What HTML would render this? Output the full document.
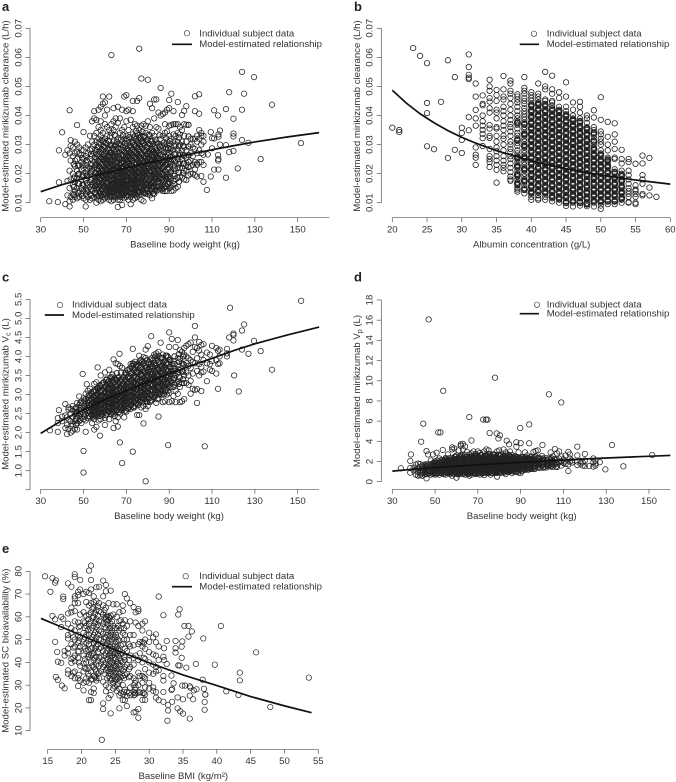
<!DOCTYPE html>
<html lang="en">
<head>
<meta charset="utf-8">
<title>Model-estimated mirikizumab relationships</title>
<style>
html,body{margin:0;padding:0;background:#fff;}
svg{display:block;width:676px;height:782px;font-family:"Liberation Sans",Arial,sans-serif;filter:blur(.3px);}
text{fill:#333;font-size:9.6px;}
.letter{font-weight:bold;font-size:13px;fill:#222;}
</style>
</head>
<body>
<svg id="figure" width="676" height="782" viewBox="0 0 676 782" xmlns="http://www.w3.org/2000/svg">
<rect width="676" height="782" fill="#fff"/>

<g id="panel-a">
<text class="letter" x="2" y="11">a</text>
<text x="185" y="247.5" text-anchor="middle">Baseline body weight (kg)</text>
<text transform="translate(8.5,116) rotate(-90)" text-anchor="middle">Model-estimated mirikizumab clearance (L/h)</text>
<circle cx="187" cy="33.3" r="2.7" fill="none" stroke="#222" stroke-width=".6"/>
<line x1="172" x2="192" y1="44.3" y2="44.3" stroke="#111" stroke-width="1.7"/>
<text x="199.3" y="36.5">Individual subject data</text>
<text x="199.3" y="47">Model-estimated relationship</text>
</g>

<g id="panel-b">
<text class="letter" x="354" y="11">b</text>
<text x="531.7" y="247.5" text-anchor="middle">Albumin concentration (g/L)</text>
<text transform="translate(359.8,116) rotate(-90)" text-anchor="middle">Model-estimated mirikizumab clearance (L/h)</text>
<circle cx="534" cy="33.7" r="2.7" fill="none" stroke="#222" stroke-width=".6"/>
<line x1="519.7" x2="539" y1="44.3" y2="44.3" stroke="#111" stroke-width="1.7"/>
<text x="546.7" y="36.5">Individual subject data</text>
<text x="546.7" y="47">Model-estimated relationship</text>
</g>

<g id="panel-c">
<text class="letter" x="2" y="281.5">c</text>
<text x="169" y="519" text-anchor="middle">Baseline body weight (kg)</text>
<text transform="translate(8.5,394) rotate(-90)" text-anchor="middle">Model-estimated mirikizumab V<tspan dy="2" style="font-size:7px">c</tspan><tspan dy="-2"> (L)</tspan></text>
<circle cx="60" cy="305" r="2.7" fill="none" stroke="#222" stroke-width=".6"/>
<line x1="44.7" x2="64" y1="315" y2="315" stroke="#111" stroke-width="1.7"/>
<text x="72" y="307.5">Individual subject data</text>
<text x="72" y="318">Model-estimated relationship</text>
</g>

<g id="panel-d">
<text class="letter" x="354" y="281.5">d</text>
<text x="521.7" y="519" text-anchor="middle">Baseline body weight (kg)</text>
<text transform="translate(359.8,391) rotate(-90)" text-anchor="middle">Model-estimated mirikizumab V<tspan dy="2" style="font-size:7px">p</tspan><tspan dy="-2"> (L)</tspan></text>
<circle cx="537" cy="304.7" r="2.7" fill="none" stroke="#222" stroke-width=".6"/>
<line x1="519.7" x2="539" y1="313.7" y2="313.7" stroke="#111" stroke-width="1.7"/>
<text x="546.7" y="307.5">Individual subject data</text>
<text x="546.7" y="316.5">Model-estimated relationship</text>
</g>

<g id="panel-e">
<text class="letter" x="2" y="553">e</text>
<text x="183.3" y="779" text-anchor="middle">Baseline BMI (kg/m²)</text>
<text transform="translate(8.5,650.7) rotate(-90)" text-anchor="middle">Model-estimated SC bioavailability (%)</text>
<circle cx="185.7" cy="576.3" r="2.7" fill="none" stroke="#222" stroke-width=".6"/>
<line x1="172" x2="192" y1="586.7" y2="586.7" stroke="#111" stroke-width="1.7"/>
<text x="199.3" y="579">Individual subject data</text>
<text x="199.3" y="589.5">Model-estimated relationship</text>
</g>
</svg>

<script>
/* Each subject row: [x value, y value, y value, ...] */
const weightTicks = [30,50,70,90,110,130,150];

/* Panel a: weight (kg) vs clearance (mL/h, printed as L/h) */
const aYTicks = [10,20,30,40,50,60,70];
const aYLabels = ["0.01","0.02","0.03","0.04","0.05","0.06","0.07"];
const aCurveX = [30,40,50,60,70,80,90,100,110,120,130,145,160];
const aCurveY = [13.8,16.2,18.3,20.2,22,23.7,25.3,26.8,28.2,29.6,30.9,32.6,34.1];
const aSubjects = [
[34,10.5],[38,10.2],[38.5,17,28],[40,34.2],[41.5,9.5,26.5],[42.5,12.5,17.5,28],[43.5,8.7,10.5,15,21,27,41.8],
[44,12,18,24.5,31.5,29.5],[45,11,13,16,20,26,29],[46,12,14,17,19,22.5,24.5,27,31],[47,11.5,15,18.5,21,25,27.5,30,36.7],
[48,12,14,16.5,20,23,27,29],[49,13,15,18,21.5,24,26.5,28],[50,11.5,14,16,19,22,25,28,34.3],[51,8.7,11,13,15,18,20,23,26,29],
[52,12,14,16,19,21,24,27,30],[53,11,13,15.5,17,20,22,25,28,33],[54,11.5,14,16,18,21,23,26,28.5,31,38],
[55,12,15,17,19,22,24,27,30,33,39,41.5],[56,10,13,14.5,16,18,20,23,25,28,31,34,38.5],
[57,11,12.5,15,17,19,21,22.5,24,26,29,32,36,42],[58,10.5,13,14,16,18,20,22,24,27,30,33,35,38,43],
[59,11,12,14,15,17,19,21,23,25,28,31,34,46.5,44],[60,11.5,13,15,16,18,20,22,24,26,29,32,37,40,44.5],
[61,12,14,15.5,17,19,21,23,25,27,30,33,36,42],[62,11,13,14.5,16,18,20,22,24,26,28,31,35,46.5],
[63,10.5,12,13.5,15,16.5,18,19.5,21,23,25,27,30,34,37,60.8],[64,11,12.5,14,15.5,17,18.5,20,21.5,23,24.5,26,28,31,35,38,42.5],
[65,12,13,15,16,17.5,19,20.5,22,24,26,28.5,30,33,36,39],[66,8.5,11,13,14.5,16,17.5,19,21,22.5,24,26,29,32,37.5,43],
[67,11,12,14,15.5,17,18,20,21,23,25,27,30,34,39],[68,9.2,12,13.5,15,16.5,18,19.5,21.5,23.5,25,28,31,35,42],
[69,11.5,13,14.5,16,17,19,20.5,22,24,26,28,32,36,46.5],[70,12,14,15,16.5,18,19.5,21,23,25,27,29.5,33,38,41.5,47],
[71,11,12.5,14,16,17.5,19,20.5,22,24,26,28,30.5,35,42],[72,9.5,12,13.5,15,16.5,18,20,21.5,23,25,27,29,32,38.5],
[73,11,13,14.5,16,17.5,19,21,22.5,24.5,26.5,28.5,31,33.5,36,41.5,45],[74,11.5,13,15,16.5,18,20,22,24,26,28,30,33,37],
[75,12,14,15.5,17,19,20.5,22,23.5,25,27,29,31,34,36.5,45],[76,12.5,14,15,17,18.5,20,22,24,26,28,30,32.5,35,46,63],
[77,11,13,15,16.5,18,20,21.5,23,25,27,29,31,33,36.5,52.7],[78,10.5,13.5,15,17,19,20.5,22,24,26,28,30.5,33,37],
[79,13,14.5,16,18,20,22,24,26,28,31,34,36.5],[80,13,15,16.5,18,20,22,23.5,25,27,29,32,38,52.3],
[81,12.5,14,16,18,19.5,21,23,25,27,30,33,36,44],[82,11.5,14,15.5,17,19,21,23,24.5,26.5,28.5,31,34,42.5],
[83,13,15,17,19,21,23,25,27,29,33,39,45.5],[84,14,15.5,18,20,22,24,26,28,31,36,45.5],[85,14.5,17,19,21,23,25,27,30,35.5,41],
[86,15,17,19,21,23,25,28,32,40,49.5],[87,14,16,18,20,22,24,26,29,33,40.5],[88,14,16.5,19,21,23,26,30,34,37,41],
[89,14,15.5,18,20,23,25,28,31,34.5,42],[90,15,17,19,22,24,27,30,33,36.5,42.5,45.3],[91,14,16,18.5,21,24,26,29,32,36.7,47.5],
[92,14.2,17.5,20,23,25,28,31,33.5,37,41.5],[93,15,18,21,24,27,30,33,37],[94,15.5,18.5,22,25,28,31,34,37,44.6],
[95,19,22,24,27,30,33.5,36],[96,18.7,22,25,28,31,35,40.2],[97,18,21,23.5,26,29,33,37,41.6],[98,17.8,21,23,25.5,28,31,36.8,43.2],
[100,19.9,22.5,24.5,27,30,32],[101,20,23,26,29,32],[102,19.5,21.5,24,28.5,32,41.5,46.6],[103,19,23.5,23,27,31,33],[104,24,28,32,35,40.6,47.3],
[105,19.2,24,27,30,33,34],[106,17.2,23,26.5,31,33],[107.6,14.4],[108,26.6],[109.4,19,34.3],[110,28.7,32.2],[111,21.4,32.1,41.8],
[112.8,24.5,26.4,40],[113,21.4,25,32.7,33.5],[113.7,30,34.8],[116.5,18.6,29.8,42.2],[118,27.4,48],[120,27.8,32.8,33.8,38.9],
[122,21.8],[124,31.6,42,55],[125,47.5],[127,30.6],[129.6,53.2],[132.7,25],[138,43.7],[151.5,30.5]
];
const aCoreSubjects = [
[45.5,12.7,15.4,18.3,23.2],[47.5,13.4,16.6,19.8,22.7],[49.5,12.3,16.2,19.4,22.8,25.3],[51.5,14.2,16.7,19.3,21.8,24.6],[53.5,12.4,14.6,17.8,20.7,23.4,26.8],
[55.5,13.3,15.8,17.6,20.4,22.9,25.6,28.3],[56.5,12.2,15.3,17.2,19.4,21.6,24.3,26.7,29.2],[57.5,13.6,15.8,18.3,20.2,22.4,24.9,27.6,30.8],
[58.5,12.4,14.7,16.9,19.3,21.2,23.3,25.7,28.4,31.6],[59.5,13.2,15.6,17.7,18.4,20.3,22.6,24.7,26.8,29.4],[60.5,12.6,14.3,16.7,18.7,19.6,21.4,23.4,25.2,27.7,30.6],
[61.5,13.3,15.2,16.6,18.3,20.3,22.2,24.4,26.3,28.6,31.4],[62.5,12.3,14.2,15.7,17.4,19.2,20.8,22.7,24.8,27.2,29.7,32.8],[63.5,13.4,14.8,16.3,17.7,19.3,21.3,22.6,24.2,26.3,28.7],
[64.5,12.2,13.8,15.2,16.9,18.2,19.7,21.2,22.8,25.2,27.3,29.6,33.3],[65.5,13.2,14.4,16.2,17.7,19.3,20.8,22.3,23.6,25.3,27.7,30.8],[66.5,12.4,14.2,15.4,16.8,18.4,19.9,21.6,23.2,25.1,27.4,30.4],
[67.5,13.1,14.6,16.2,17.6,19,20.6,22.1,23.9,26.2,28.4,31.7],[68.5,12.7,14.2,15.8,17.2,18.6,20.2,22.5,24.4,26.4,29.2,33.2],[69.5,13.4,15,16.2,17.8,19.3,21,22.8,25.2,27.3,30.4],
[70.5,12.6,14.4,15.9,17.4,19,20.4,22.2,24.2,26.2,28.4,31.7],[71.5,13.3,15.2,16.7,18.4,19.7,21.4,23.3,25.3,27.2,29.4,32.6],[72.5,13.2,14.7,16.4,17.9,19.3,21,22.7,24.4,26.4,28.2,30.6],
[73.5,13.6,15.3,16.8,18.4,20.2,21.7,23.4,25.4,27.4,29.8,32.4],[74.5,12.6,14.6,16.2,17.7,19.4,21.3,23.2,25.2,27.2,29.4,31.8,34.7],[75.5,13.2,15.2,16.7,18.3,20.2,22.2,24.3,26.3,28.4,30.7,33.2],
[76.5,13.7,15.4,17.3,19.2,21.2,23.1,25.2,27.4,29.6,32.2],[77.5,14.2,16.3,18.4,20.3,22.4,24.4,26.6,28.7,31.3,34.4],[78.5,13.4,15.7,17.6,19.6,21.4,23.4,25.4,27.6,29.7,32.6],
[79.5,14.6,16.7,18.7,20.7,22.7,24.7,26.8,29.2,31.4],[80.5,13.6,15.7,17.6,19.7,21.8,23.6,25.7,27.8,30.3,33.4],[81.5,14.7,16.8,18.7,20.6,22.4,24.4,26.3,28.4,31.2],
[82.5,13.3,15.4,17.6,19.8,21.7,23.7,25.8,27.6,30.2],[83.5,14.4,16.6,18.7,20.6,22.7,24.7,26.7,28.7,31.7],[84.5,15.3,17.2,19.4,21.4,23.4,25.4,27.7,30.4],
[85.5,15.7,18.2,20.3,22.4,24.4,26.4,29.3,33.2],[86.5,14.6,17.8,19.8,21.7,23.8,26.6,29.7],[87.5,15.2,17.6,19.6,22.3,24.7,27.4,30.7],[88.5,15.7,18.3,20.6,23.4,25.6,28.6,32.2],
[89.5,16.3,18.7,21.4,23.6,26.3,28.8],[90.5,15.3,18.2,20.4,23.2,25.8,28.4,31.2],[92.5,16.4,19.2,21.8,24.4,26.7,29.4],[94.5,17.2,20.4,23.2,26.2,29.4,32.4],[96.5,20.2,23.4,26.4,29.6],[99,19.4,22.3,24,26.4,29.3,32.8,36.8]
];

/* Panel b: albumin (g/L) vs clearance (mL/h, printed as L/h) */
const bXTicks = [20,25,30,35,40,45,50,55,60];
const bYTicks = aYTicks;
const bYLabels = aYLabels;
const bCurveX = [20,22,24,26,28,30,32,35,40,45,50,55,60];
const bCurveY = [48.7,44.3,40.6,37.5,34.8,32.5,30.5,27.9,24.4,21.7,19.5,17.8,16.4];
const bSubjects = [
[20,35.8],[21,34.3,35],[23,63.2],[24,60.5],[25,58,44.3,40.8,29.4],[26,28.4],[27,44.7],[28,59,25.4],[29,53.2,28.2],
[30,35.8,34,31.6,27.1],[31,61,56.7,54,53,52.5,39.4,34.9],[32,51,46.5,41.9,39,36.5,29,26.5,25.5,23],
[33,46.9,44,43.5,40,38,36.5,35,33.7,32.2,29.5],[34,52.3,50,48.5,46,44.8,42.5,41,36.7,35.5,33,32.3,28.5,26,25,24,22.3],
[35,48.8,47,45,42,41,39,36,35.5,33,31,29,27.7,26,24.5,23,21.3,16.9],
[36,53.6,49,46.5,45.5,43,41.5,40,38,36.5,35,33,32,30,28,26,24.5,23,22,20.8],
[37,52,51,48.5,47.5,46,44,42,40,38.5,37,36,34.5,33,31,30,28.5,27.5,26,25,23.5,22,20.5,19,18,17.5],
[38,47.3,46.5,45.5,44.5,43,41.5,40,39,38,36.8,35.5,34,33,32,30.5,29.5,28,27,26,25,24,23,22,21,20,19,18,17,16,15,14.5,13.8],
[39,53.2,49.5,48.5,47.5,46,45,44,42.5,41.5,40.5,39.5,38.5,37.5,36,35,34,33,32,31,30,29,28,27,26,25,24,23,22,21,20,19,18,17,16,15,13.2],
[40,48,47,46,45,44,43,42,41,40,39,38,37,36,35,34,33,32,31,30,29,28,27,26,25,24,23,22,21,20,19,18,17,16,15,14,13,12,11],
[41,51,47.5,46.5,45.5,44.5,43.5,42.5,41.5,40.5,39.5,38.5,37.5,36.5,35.5,34.5,33.5,32.5,31.5,30.5,29.5,28.5,27.5,26.5,25.5,24.5,23.5,22.5,21.5,20.5,19.5,18.5,17.5,16.5,15.5,14.5,13.5,12.5,11.5,11],
[42,55,50,49,45.5,45,44,43,42,41,40,39,38,37,36,35,34,33,32,31,30,29,28,27,26,25,24,23,22,21,20,19,18,17,16,15,14,13,12,11],
[43,53.7,49,47.5,45,44.5,43.5,42.5,41.5,40.5,39.5,38.5,37.5,36.5,35.5,34.5,33.5,32.5,31.5,30.5,29.5,28.5,27.5,26.5,25.5,24.5,23.5,22.5,21.5,20.5,19.5,18.5,17.5,16.5,15.5,14.5,13.5,12.5,11.5,10.5],
[44,48,46,43,42,41,40,39,38,37,36,35,34,33,32,31,30,29,28,27,26,25,24,23,22,21,20,19,18,17,16,15,14,13,12,11,10],
[45,51.4,46.5,43,41.5,40.5,39.5,38.5,37.5,36.5,35.5,34.5,33.5,32.5,31.5,30.5,29.5,28.5,27.5,26.5,25.5,24.5,23.5,22.5,21.5,20.5,19.5,18.5,17.5,16.5,15.5,14.5,13.5,12.5,11.5,10.5,8.9],
[46,44.5,42,40,39,38,37,36,35,34,33,32,31,30,29,28,27,26,25,24,23,22,21,20,19,18,17,16,15,14,13,12,11,10,8.7],
[47,44.7,43,41,39,37.5,36.5,35.5,34.5,33.5,32.5,31.5,30.5,29.5,28.5,27.5,26.5,25.5,24.5,23.5,22.5,21.5,20.5,19.5,18.5,17.5,16.5,15.5,14.5,13.5,12.5,11.5,10.5,9],
[48,40,39,37.5,36,35,34,33,32,31,30,29,28,27,26,25,24,23,22,21,20,19,18,17,16,15,14,13,12,11,10,8.8],
[49,41.8,39.3,36,35,33.5,32.5,31.5,30,29,28,27,26,25,24,23,22,21,20,19,18,17,16,15,14,13,12,11,10,8.7],
[50,46.3,38.5,34.5,33.5,32,31,30,28,27,26,25,24,23,22,21,20,19,18,17,16,15,14,13,12,11,10,9,7.9],
[51,37.8,32.7,30,28,25.5,25,24,23,22,21,20,19,18,17,16,15,14,13,12,11,9.5],
[52,37.3,33.5,31,28.5,25.5,25,21.5,20,19,18,17,16,15,14,13,12,11,9.5],
[53,28.2,25,23.5,21,20,19,18,17,16,15,14,13,12,11,10],
[54,25,24,21,19.5,18,16.5,15,14,13,12,10.2,10],[55,23.4,16,14.5,14,13,12,10,9.5],[56,26.2,23.5,19.5,18,16.5,13,12.5],[57,25.4,15.2,12.5],[58,12]
];
const bCoreSubjects = [
[38,37.5,31.5,25.5,22.5,19.5,16.5],[39,37,33.5,29.5,25.5,21.5,17.5,14.5],
[40,43.5,41.5,39.5,37.5,35.5,33.5,31.5,29.5,27.5,25.5,23.5,21.5,19.5,17.5,15.5,13.5],
[41,44,42,40,38,36,34,32,30,28,26,24,22,20,18,16,14],
[42,43.5,41.5,39.5,37.5,35.5,33.5,31.5,29.5,27.5,25.5,23.5,21.5,19.5,17.5,15.5,13.5],
[43,42,40,38,36,34,32,30,28,26,24,22,20,18,16,14,12],
[44,41.5,39.5,37.5,35.5,33.5,31.5,29.5,27.5,25.5,23.5,21.5,19.5,17.5,15.5,13.5,11.5],
[45,40,38,36,34,32,30,28,26,24,22,20,18,16,14,12,10],
[46,38.5,36.5,34.5,32.5,30.5,28.5,26.5,24.5,22.5,20.5,18.5,16.5,14.5,12.5,10.5],
[47,38,36,34,32,30,28,26,24,22,20,18,16,14,12,10],
[48,35.5,33.5,31.5,29.5,27.5,25.5,23.5,21.5,19.5,17.5,15.5,13.5,11.5,9.5],
[49,34,31,28.5,26.5,24.5,22.5,20.5,18.5,16.5,14.5,12.5,10.5],
[50,26.5,24.5,22.5,20.5,18.5,16.5,14.5,12.5,10.5],
[51,24.5,22.5,20.5,18.5,16.5,14.5,12.5,10.5],[52,20.5,18.5,16.5,14.5,12.5,10.5],[53,19.5,17.5,15.5,13.5,11.5]
];

/* Panel c: weight (kg) vs Vc (L) */
const cYTicks = [0.5,1,1.5,2,2.5,3,3.5,4,4.5,5,5.5];
const cYLabels = ["","1.0","1.5","2.0","2.5","3.0","3.5","4.0","4.5","5.0","5.5"];
const cCurveX = [30,40,50,60,70,80,90,100,110,120,130,145,160];
const cCurveY = [1.98,2.32,2.6,2.87,3.1,3.33,3.55,3.75,3.95,4.15,4.33,4.56,4.77];
const cSubjects = [
[34.3,2.06],[38,2.02,2.25,2.38],[38.5,2.59],[40,2.3,2.42],[41.5,2.12,2.45,2.75],[42.3,1.96,2.2,2.4],[43,2.1,2.35,2.6,2.66],
[44,2,2.18,2.3,2.5,2.62],[45,2.05,2.22,2.4,2.58,2.7],[46,2.1,2.3,2.48,2.62],[47,2.08,2.25,2.42,2.55,2.78],[48,2.3,2.44,2.6,2.72,2.95],
[49,2.25,2.4,2.55,2.68,2.82],[49.6,3.54],[50,1.52,.95,2.35,2.5,2.65,2.8,2.9],[51,2.02,2.32,2.48,2.6,2.75,2.88,3.02],[51.5,3.27],
[52,2.38,2.52,2.64,2.78,2.92,3.1],[53,2.4,2.55,2.7,2.82,2.95,3.15],[54,2.25,2.45,2.6,2.72,2.85,3],[55,2.08,2.35,2.5,2.65,2.78,2.9,3.08,3.28],
[56,2.15,2.42,2.58,2.7,2.82,2.95,3.1,3.32],[56.6,3.71],[57,2.32,2.5,2.62,2.76,2.88,3,3.18],[57.7,1.92],
[58,2.35,2.52,2.66,2.8,2.92,3.05,3.22,3.5],[59,2.45,2.6,2.72,2.85,2.96,3.08,3.3],[60,2.2,2.38,2.55,2.68,2.8,2.92,3.05,3.2,3.58],
[61,2.5,2.62,2.76,2.88,3,3.14,3.28,3.42],[62,2.35,2.55,2.68,2.8,2.92,3.04,3.18,3.36,3.65],[63,2.48,2.6,2.74,2.86,2.98,3.1,3.24,3.46],
[64,2.12,2.5,2.64,2.78,2.9,3.02,3.15,3.3,3.92],[65,2.3,2.55,2.7,2.82,2.94,3.06,3.2,3.38,3.82],[66,2.16,2.4,2.6,2.74,2.88,3,3.12,3.26,3.44,3.8],
[66.8,4.07],[67,1.74,2.5,2.66,2.8,2.92,3.04,3.18,3.34,3.75],[68,1.2,2.58,2.72,2.84,2.96,3.08,3.22,3.4,3.7],[69,2.4,2.65,2.78,2.9,3.02,3.14,3.28,3.46],
[70,2.55,2.7,2.82,2.94,3.06,3.2,3.34,3.52],[71,2.62,2.76,2.88,3,3.12,3.26,3.42,3.6],[72,2.62,2.72,2.84,2.96,3.08,3.22,3.36,3.54,3.8],
[73,1.5,2.68,2.8,2.92,3.04,3.16,3.3,3.46,3.66,3.82,4.2],[74,2.7,2.84,2.96,3.08,3.2,3.34,3.5,3.7,3.86],[75,2.46,2.76,2.9,3,3.12,3.26,3.4,3.58,3.78],
[76,2.46,2.8,2.94,3.06,3.18,3.32,3.46,3.64,3.84,4.02],[77,2.66,2.86,2.98,3.1,3.24,3.38,3.54,3.72,3.9],[78,2.24,2.7,2.9,3.02,3.16,3.28,3.42,3.6,3.82,3.98],
[79,.72,2.62,2.84,2.96,3.08,3.22,3.36,3.5,3.7,3.96,4.18],[80,2.7,2.94,3.04,3.16,3.3,3.44,3.6,3.8,4.27],[81,2.8,2.98,3.1,3.24,3.38,3.54,3.72,3.92],
[81.6,4.53],[82,2.85,3,3.14,3.28,3.42,3.58,3.76,3.96],[83,2.92,3.04,3.18,3.32,3.46,3.62,3.82,4.05],[84,2.78,2.98,3.1,3.24,3.38,3.52,3.68,3.88,4.08],
[85,2.42,2.9,3.06,3.2,3.34,3.48,3.64,3.84,4.02,4.12],[86,3,3.14,3.28,3.42,3.56,3.72,3.96,4.36],[87,2.8,3.02,3.2,3.34,3.5,3.66,3.82,4.05],
[88,2.82,3.1,3.26,3.4,3.56,3.72,3.9],[89,3,3.18,3.34,3.5,3.66,3.84,4.02],[89.5,1.67],[90,2.8,3.04,3.24,3.4,3.56,3.72,3.9,4.25,4.63],
[91.2,2.82,3.3,3.46,3.62,3.8,4.46],[92,2.96,3.2,3.38,3.54,3.7,3.88],[93,2.8,3.1,3.3,3.5,3.68,4.25],[94,3.02,3.36,3.58,3.76,3.96,4.43],
[95,2.8,3.2,3.44,3.64,3.94,4.16],[96,2.82,3.3,3.6,3.82,4.12],[97,2.88,3.3,3.5,3.78,4.05,4.22],[98,3.3,3.58,3.82,4,4.28],[99,3.25,3.5,3.75,3.95,4.32],
[100,3.02,3.36,3.7,3.9,4.36],[101,3.15,3.55,3.85,4.12],[102,3.12,3.82,4.25,4.5,4.8],[103,2.78,3.14,3.62,3.95,4.22],[104,3.5,3.8,4.15,4.38],
[105,3.09,3.58,3.72,4.05,4.3],[106,3.6,3.9,4.32],[106.6,1.64],[107.6,3.35,3.82,4.1],[109,3.65,3.8,4.05],[110,3.62,3.88,4.28],[112,3.55,3.9,4.22],
[112.8,3.15,3.8,4.15],[113.5,3.82,4,4.18],[117,4,4.08,4.2],[118,4.5],[118.4,5.28],[120,4.42,4.56,4.6],[120.3,3.5],[122.5,3.08],[124,4.18,4.68],[125,4.84],
[127,4.07],[129.6,4.41],[132.7,4.14],[138,3.65],[151.6,5.46]
];
const cCoreSubjects = [
[46.5,2.2,2.36,2.52,2.66],[48.5,2.34,2.5,2.64,2.78],[50.5,2.42,2.56,2.7,2.84],[52.5,2.44,2.58,2.72,2.86,2.98],[53.5,2.48,2.62,2.76,2.9,3.04],
[54.5,2.42,2.56,2.68,2.8,2.94,3.08],[55.5,2.46,2.6,2.74,2.86,2.98,3.12],[56.5,2.5,2.64,2.76,2.88,3.02,3.16],[57.5,2.44,2.58,2.7,2.84,2.96,3.1,3.24],
[58.5,2.48,2.62,2.74,2.86,2.98,3.12,3.26],[59.5,2.54,2.66,2.78,2.9,3.02,3.16,3.32],[60.5,2.46,2.6,2.72,2.84,2.96,3.08,3.22,3.38],[61.5,2.56,2.68,2.8,2.92,3.04,3.18,3.34],
[62.5,2.5,2.64,2.76,2.88,3,3.12,3.28,3.44],[63.5,2.54,2.68,2.82,2.94,3.06,3.2,3.36,3.52],[64.5,2.44,2.6,2.74,2.86,2.98,3.1,3.24,3.42],[65.5,2.58,2.72,2.84,2.96,3.08,3.22,3.38,3.56],
[66.5,2.54,2.68,2.8,2.92,3.04,3.16,3.3,3.46],[67.5,2.6,2.74,2.86,2.98,3.1,3.24,3.4,3.58],[68.5,2.64,2.78,2.9,3.02,3.14,3.28,3.44],[69.5,2.58,2.72,2.84,2.96,3.08,3.22,3.38,3.56],
[70.5,2.64,2.78,2.9,3.02,3.16,3.3,3.46,3.64],[71.5,2.68,2.82,2.94,3.06,3.18,3.32,3.48,3.68],[72.5,2.74,2.86,2.98,3.1,3.24,3.38,3.56,3.74],[73.5,2.66,2.8,2.92,3.04,3.18,3.32,3.48,3.64,3.8],
[74.5,2.78,2.9,3.02,3.14,3.28,3.44,3.6,3.78],[75.5,2.72,2.86,2.98,3.12,3.26,3.4,3.56,3.74],[76.5,2.84,2.96,3.1,3.24,3.38,3.52,3.7,3.9],[77.5,2.8,2.94,3.06,3.2,3.34,3.5,3.66,3.86],
[78.5,2.88,3,3.14,3.28,3.42,3.58,3.76],[79.5,2.8,2.92,3.06,3.2,3.36,3.52,3.7,3.9],[80.5,2.9,3.02,3.18,3.32,3.48,3.64,3.84],[81.5,2.84,2.98,3.12,3.28,3.44,3.6,3.8],
[82.5,2.94,3.08,3.24,3.38,3.54,3.72,3.9],[83.5,3,3.14,3.3,3.44,3.6,3.78,4],[84.5,2.88,3.04,3.2,3.36,3.52,3.7,3.92],[85.5,3.02,3.18,3.34,3.5,3.68,3.86],[86.5,3.08,3.24,3.4,3.56,3.76,3.96],
[87.5,3,3.16,3.34,3.5,3.68,3.86],[88.5,3.12,3.3,3.46,3.64,3.82,4.02],[89.5,3.1,3.28,3.44,3.62,3.8,3.98],[90.5,3.2,3.36,3.54,3.72,3.9],[92.5,3.26,3.44,3.62,3.8,4],[94.5,3.28,3.46,3.66,3.86,4.06],[96.5,3.4,3.6,3.8,4]
];

/* Panel d: weight (kg) vs Vp (L) */
const dYTicks = [0,2,4,6,8,10,12,14,16,18];
const dYLabels = ["0","2","4","6","8","10","12","14","16","18"];
const dCurveX = [30,40,50,60,70,80,90,100,110,120,130,145,160];
const dCurveY = [1.05,1.24,1.4,1.54,1.67,1.8,1.92,2.03,2.14,2.25,2.35,2.48,2.6];
const dSubjects = [
[34,1.32],[38.4,2.05,.9,1.35],[38.7,2.7],[40,1.1,1.4],[41,.7,1.2,1.7],[42,.6,.95,1.3,1.8],[43,.65,.9,1.15,1.45,1.75],[43.5,3.96],[44,.6,.85,1.1,1.35,1.6],[44.5,5.75],
[45,.7,.95,1.2,1.45,1.7],[46,.33,.75,1,1.25,1.5,1.75,3.03],[46.7,.9,1.15,1.4,1.65,2.7],[47,16.07],[48,.7,1,1.25,1.5,1.75,2.1],[49,.75,1.05,1.3,1.55,1.8,2.7],[50,.7,.95,1.2,1.45,1.7,2],
[50.7,2.87],[51,.8,1.1,1.35,1.6,1.85,2.1],[51.5,4.88],[52,.7,1,1.3,1.55,1.8,2.05,2.3],[52.5,4.88],[53,.85,1.15,1.4,1.65,1.9,2.15],[53.6,3.14],[53.8,9],
[54,.75,1.05,1.35,1.6,1.85,2.1],[55,.7,1,1.25,1.5,1.75,2,2.35],[56,.85,1.15,1.4,1.65,1.9,2.15,2.7],[57,.75,1.05,1.3,1.55,1.8,2.05,2.35],[58,.6,.95,1.2,1.45,1.7,1.95,2.2,3.2,3.4],
[59,.75,1.1,1.35,1.6,1.85,2.1,2.45,3.3],[60,.4,.85,1.15,1.4,1.65,1.9,2.15,2.6],[61,.7,1,1.3,1.55,1.8,2.05,2.35,3.1],[62,.85,1.15,1.4,1.65,1.9,2.15,2.5,3.55,3.7],
[63,.75,1.05,1.35,1.6,1.85,2.1,2.4,3.2,3.75],[64,.7,1,1.25,1.5,1.75,2,2.25,2.65,3.5],[65,.8,1.1,1.4,1.65,1.9,2.15,2.5,2.95],[66,.6,.95,1.2,1.5,1.75,2,2.3,2.7,6.4],
[67,.7,1.05,1.3,1.55,1.8,2.05,2.35,2.8,4.08],[68,.85,1.15,1.4,1.65,1.9,2.15,2.45,3],[69,.75,1.05,1.35,1.6,1.85,2.1,2.4,2.75],[70,.8,1.1,1.4,1.65,1.9,2.15,2.5,3],
[71,.7,1,1.3,1.55,1.8,2.05,2.35,2.85],[72,.8,1.15,1.45,1.7,1.95,2.2,2.6],[72.5,6.15],[73,.65,.95,1.25,1.55,1.8,2.05,2.4,3],[73.8,6.15],[74,.85,1.15,1.45,1.7,1.95,2.2,2.6,3.2],[74.5,6.15],
[75,.85,1.1,1.35,1.65,1.9,2.15,2.5,3.1],[75.5,4.82],[76,.7,1,1.3,1.6,1.85,2.1,2.4],[77,.85,1.15,1.45,1.7,1.95,2.2,2.7],[78,.95,1.25,1.55,1.8,2.05,2.35,2.65,10.3],[78.8,4.78],
[79,.5,.95,1.3,1.6,1.85,2.1,2.4,3],[79.6,4.28],[80,.85,1.2,1.5,1.75,2,2.25,2.55,3.1],[80.3,4.6],[81,.9,1.25,1.55,1.8,2.05,2.3,2.7],[82,1,1.35,1.6,1.85,2.1,2.4,3.2],
[83,.75,1.1,1.45,1.7,1.95,2.2,2.5,2.9],[83.5,4.06],[84,1,1.3,1.6,1.85,2.1,2.35,2.7],[84.6,3.7],[85,1.1,1.4,1.65,1.9,2.15,2.5,3],[86,.85,1.2,1.5,1.75,2,2.3,2.65],
[87,1.1,1.45,1.7,1.95,2.2,2.5],[88,.95,1.3,1.6,1.85,2.1,2.4,3.47,3.9],[89,.9,1.25,1.55,1.8,2.05,2.35,2.9],[89.8,5.32],[90,.85,1.2,1.5,1.8,2.05,2.3,3.83],[91,1.3,1.6,1.85,2.1,2.45],
[92,1.15,1.45,1.75,2,2.3,2.9],[93,1.3,1.6,1.9,2.2,2.6],[94,1.4,1.65,1.95,2.3,5.67,3.8],[95,1.25,1.55,1.85,2.15,2.5],[96,1.35,1.7,2,2.3,2.95],[97,1.5,1.8,2.1,2.5,3.05],
[98,1.4,1.7,2,2.3,3.1],[99,1.35,1.65,1.95,2.25],[100,1.6,1.9,2.2,2.55],[100.2,3.63],[101,1.45,1.8,2.1],[102,1.4,1.7,2,2.35],[103.2,1.6,1.95,2.3,8.65],[104,1.5,1.85,2.2,2.9],[105,1.45,1.75,2.05,2.5],
[106,1.7,1.95,2.25,3.23],[107,1.45,1.8,2.8],[108,1.9,2.3,3],[109,1.6,2,2.5,7.85],[110,1.85,2.2],[111,1.75,2,2.6],[112.3,1.06,1.7,2.95],[113,2,2.3,2.7],[114,1.9,2.1],
[116.5,1.65,2,2.6,3.47],[118,1.8,2.05],[119,1.6,1.9],[120,1.55,2.1,2.75],[122,1.55],[124,1.5,1.95,2.3],[125,1.6,1.8,2.1],[127,1.93],[129.6,1.22],[132.7,3.63],[138,1.52],[151.5,2.64]
];
const dCoreSubjects = [
[45.5,.82,1.08,1.34,1.58],[47.5,.86,1.12,1.38,1.62],[49.5,.88,1.16,1.42,1.66,1.92],[50.5,.84,1.08,1.34,1.6,1.84],[52.5,.88,1.18,1.44,1.68,1.94],[53.5,.94,1.22,1.48,1.72,1.98],
[54.5,.84,1.12,1.4,1.66,1.92,2.2],[55.5,.92,1.2,1.46,1.7,1.96,2.22],[56.5,.86,1.08,1.34,1.58,1.82,2.08],[57.5,.92,1.18,1.42,1.66,1.92,2.18],[58.5,.84,1.08,1.32,1.56,1.8,2.06,2.3],
[59.5,.94,1.22,1.46,1.72,1.96,2.22,2.5],[60.5,.78,1.04,1.28,1.52,1.76,2.02,2.28],[61.5,.9,1.16,1.42,1.68,1.92,2.18,2.46],[62.5,.98,1.24,1.48,1.72,1.98,2.24,2.6],
[63.5,.86,1.12,1.36,1.6,1.84,2.08,2.34],[64.5,.92,1.18,1.44,1.68,1.92,2.18,2.46],[65.5,.78,1.04,1.32,1.58,1.84,2.08,2.36],[66.5,.88,1.14,1.4,1.64,1.88,2.14,2.44],[67.5,.96,1.22,1.46,1.72,1.96,2.22,2.56],
[68.5,.82,1.08,1.34,1.6,1.84,2.08,2.34,2.65],[69.5,.94,1.2,1.46,1.72,1.98,2.24,2.56],[70.5,.86,1.14,1.4,1.66,1.92,2.18,2.44],[71.5,.98,1.26,1.52,1.78,2.02,2.28,2.66],[72.5,.88,1.12,1.38,1.64,1.88,2.14,2.42],
[73.5,.96,1.22,1.48,1.74,2,2.26,2.6],[74.5,.92,1.2,1.46,1.72,1.98,2.24,2.54],[75.5,1,1.26,1.52,1.78,2.02,2.3,2.72],[76.5,.88,1.14,1.42,1.68,1.94,2.18,2.5],[77.5,1,1.28,1.54,1.8,2.06,2.32,2.7],
[78.5,.88,1.14,1.42,1.68,1.94,2.2,2.5],[79.5,1.02,1.28,1.54,1.78,2.04,2.3,2.66],[80.5,.96,1.24,1.5,1.76,2.02,2.28,2.6],[81.5,1.06,1.34,1.6,1.86,2.12,2.4],[82.5,.92,1.2,1.48,1.74,2,2.26,2.56],
[83.5,1.06,1.34,1.62,1.88,2.14,2.42],[84.5,.98,1.24,1.52,1.78,2.04,2.3,2.6],[85.5,1.12,1.4,1.66,1.92,2.2,2.46],[86.5,1.02,1.3,1.58,1.84,2.1,2.38],[87.5,1.18,1.44,1.7,1.96,2.24,2.52],
[88.5,1.08,1.36,1.64,1.9,2.16,2.44],[89.5,1.16,1.42,1.7,1.96,2.22],[90.5,1.06,1.34,1.62,1.9,2.16,2.42],[91.5,1.22,1.5,1.76,2.02,2.3],[92.5,1.32,1.58,1.84,2.12,2.4],[93.5,1.2,1.48,1.76,2.04,2.3],
[94.5,1.3,1.58,1.84,2.12,2.42],[95.5,1.42,1.7,1.96,2.24],[96.5,1.26,1.54,1.82,2.1,2.4],[98.5,1.5,1.78,2.06,2.36],[100.5,1.4,1.7,1.98,2.3],[102.5,1.55,1.82,2.12],[104.5,1.62,1.95,2.3],[106.5,1.5,1.85,2.15]
];

/* Panel e: BMI (kg/m2) vs SC bioavailability (%) */
const eXTicks = [15,20,25,30,35,40,45,50,55];
const eYTicks = [10,20,30,40,50,60,70,80];
const eYLabels = ["10","20","30","40","50","60","70","80"];
const eCurveX = [14,17,20,25,30,35,40,45,50,54];
const eCurveY = [59.3,55.6,51.8,45.5,39.8,34.5,29.8,25,20.9,17.9];
const eSubjects = [
[14.6,77.8],[15.4,71],[15.7,77,60.4],[16.1,75,58.9,49],[16.2,76,33.6],[16.4,44.6],[16.5,40.3,32.3],[17,60,55.5,39.8],[17.1,29.8],[17.3,68.9,67.8,59],[17.5,28.6,45,43],
[18,74.7,61.5,57,52,50.5,46,44,36.5,35],[18.5,73.2,64,62,55,53,48,41.5,39.8,34],[19,78.7,77.5,69,68,66,62.5,58,54,50,47,43,40.5,36,33],[19.5,71,69.5,66,57.5,52,48.5,44.5,42,33,29.6],
[19.8,76.2,72,61,56,51,47,38.5,32],[20.3,70,62,58,53,50,47,43,39.5,36,31,27.7],[20.7,71,66.5,60.5,56,52,48.5,45,40,37,33,31.5],[21.1,80.3,70.5,65,61,57,52,48,43.5,37.5,34,31,23.4],
[21.4,82.5,76.2,72,66,62,58,54,50,46,43,40,36,32.5,27,23.4],[21.8,69,66.5,64,60,56,52,48.5,44,41,38,34,28.5,26.5],[22.2,73,67,63,59,55.5,51,47,42.5,39,36,33,32],
[22.6,73.2,66,62.5,58,54,50,46,42,38.5,35.5,33],[23.2,75.9,69,65,61,57,52.5,49,45,41,38,31.5,22,19.5],[23,6],[23.6,71.2,74,64,60,59,55,51,47.5,44,40,36.5,30,27.3],[24,66,60,58.5,54,50,46,43,39,36,34,29,24.3],
[24.3,17.6,71.5,60.5,57,53,49,45,42,38,35,32,25.7],[24.7,65.5,61,56,52,48,44.5,41,37.5,34,31,28.5],[25.2,65.5,60,55,51,47,44,40,37,33.5,30,27.5],
[25.6,62,58,54,49.5,45,42,39,35,32,28.5,25.5,19.8],[26.1,65,62.5,57,53,48,44,40,36.5,34,30,26,23.5],[26.4,70,58.5,52,46,41,38,34.5,28,23.4],[26.7,68.1,56,50,45,39,35,27,25.3,20.8],
[27.2,66,58,52,47,43,38,34,29,25.5],[27.7,64.3,52,47.5,42,39,33,30,27,25.5,18],[28,62,57.5,43,32,29,26.5,18.3],[28.4,62.5,63.4,56,48,41,35.5,30,26.7,15.7,19.5],
[29,57,54,49,47,40,34,31,26.5,23.5],[29.4,58,50,46,41.5,37,33,29,26,23.5],[30,53,49,44.5,40,35.5,31,28.5],[30.6,51,43.5,39,35,29,27.5],[31,52.3,48.8,43,38,36,27,24.5],
[31.4,68.9,47,41,36.5,23.4],[32.1,60.7,42.5,34,32,27,22.7],[32.2,46.2,41],[32.6,49.4,39.3],[32.7,14.4],[32.8,18.9,21.3],[33.3,34.2,27.9],[33.4,22.7,28.3],[33.6,30.8],
[33.9,49.4,46.2,44.3],[34.2,24.6,19.8],[34.3,61,38.7],[34.5,63.3,38.6],[34.6,18.5],[34.8,46.9,42],[34.9,49.2,29.8],[35,23.8,17.5],[35.2,56],[35.3,29.8],[35.5,37.7],
[35.8,56,51.3],[36,29.5,25.4,15.3],[36.1,28.9],[36.3,53.6],[36.5,23.8],[36.6,27.7],[36.9,39.3],[37,28.2],[37.9,32.4],[38,50.5],[38.1,28.4],[38.2,22.6,19.2],[38.3,25.8,25.9],
[39.7,39],[40.6,56],[41.4,27.3],[43.2,25.7],[43.4,35.5,32.1],[45.8,44.4],[47.9,20.4],[53.6,33.3]
];
const eCoreSubjects = [
[18.8,51,46.5,42,35.5],[19.6,55.5,49.5,45,40,34.5],[20.5,57.5,55,51,46,41.5,37.5],[21,59,54.5,49.5,45.5,42.5,35],[21.6,63.5,59.5,55,51,46.5,43.5,38.5,32.5],
[22,61.5,57.5,53,49.5,46,42,37,33.5],[22.4,64.5,60.5,56.5,52.5,48,44.5,40.5,35],[22.9,62,58,53.5,50,46.5,42.5,39.5,36],[23.4,63,59.5,55.5,51,47.5,43,39,35],
[23.8,60.5,58,56.5,52,48.5,45,41.5,37.5,33],[24.2,59.5,55,51.5,47,44,40.5,37,33],[24.5,58,54,50,46,43,39.5,36,32.5],[24.9,55,51,47,44,42,38.5,35.5,32.5,29.5],
[25.1,52,49,45.5,41.5,38.5,35.5,32.5],[25.4,56,50,46,43,39.5,36,33,30.5],[25.8,58.5,55,47.5,43.5,40.5,37,33.5,26.5],[26.3,55,50,42.5,37,33,27],[27,48,41,37,33.5,26.5],
[27.9,31,28,26.5,25.8],[28.6,49,44,34,27],[29.2,48.5,42,33.5,26.5]
];

const NS = 'http://www.w3.org/2000/svg';

function linearScale(d0, d1, r0, r1) {
  return function (v) { return r0 + (v - d0) * (r1 - r0) / (d1 - d0); };
}

function makeEl(parent, tag, attrs) {
  const el = document.createElementNS(NS, tag);
  Object.keys(attrs).forEach(function (k) { el.setAttribute(k, attrs[k]); });
  parent.appendChild(el);
  return el;
}

function drawPoints(parent, rows, x, y, strokeWidth) {
  rows.forEach(function (row) {
    row.slice(1).forEach(function (v) {
      const c = makeEl(parent, 'circle', {cx: x(row[0]).toFixed(2), cy: y(v).toFixed(2), r: 2.7, fill: 'none', stroke: '#222', 'stroke-width': strokeWidth});
      
      
    });
  });
}

function drawPanel(id, layout, xTicks, yTicks, yLabels, curveX, curveY, subjects, coreSubjects) {
  const g = document.getElementById(id);
  const x = linearScale(layout.xd[0], layout.xd[1], layout.xr[0], layout.xr[1]);
  const y = linearScale(layout.yd[0], layout.yd[1], layout.yr[0], layout.yr[1]);

  const points = document.createElementNS(NS, 'g');
  
  
  g.appendChild(points);
  drawPoints(points, subjects, x, y, layout.sw);
  drawPoints(points, coreSubjects, x, y, layout.coreSw);

  const d = curveX.map(function (v, i) { return x(v).toFixed(2) + ',' + y(curveY[i]).toFixed(2); }).join(' ');
  const curve = makeEl(g, 'polyline', {points: d, fill: 'none', stroke: '#111', 'stroke-width': 1.7});
  
  

  const xAxis = makeEl(g, 'line', {x1: x(xTicks[0]), x2: layout.xEnd, y1: layout.xAxisY, y2: layout.xAxisY, stroke: '#555', 'stroke-width': .7});
  
  
  xTicks.forEach(function (t) {
    const tick = makeEl(g, 'line', {x1: x(t), x2: x(t), y1: layout.xAxisY, y2: layout.xAxisY + 4.5, stroke: '#555', 'stroke-width': .7});
    
    
    const label = makeEl(g, 'text', {x: x(t), y: layout.xAxisY + 14.8, 'text-anchor': 'middle'});
    label.textContent = String(t);
    
    
  });

  const yAxis = makeEl(g, 'line', {x1: layout.yAxisX, x2: layout.yAxisX, y1: y(yTicks[0]), y2: y(yTicks[yTicks.length - 1]), stroke: '#555', 'stroke-width': .7});
  
  
  yTicks.forEach(function (t, i) {
    const tick = makeEl(g, 'line', {x1: layout.yAxisX - 4.5, x2: layout.yAxisX, y1: y(t), y2: y(t), stroke: '#555', 'stroke-width': .7});
    
    
    if (yLabels[i] !== '') {
      const label = makeEl(g, 'text', {transform: 'translate(' + (layout.yAxisX - 8.6) + ',' + y(t) + ') rotate(-90)', 'text-anchor': 'middle'});
      label.textContent = yLabels[i];
      
      
    }
  });
}

drawPanel('panel-a', {xd:[30,150], xr:[40.7,297.7], yd:[10,70], yr:[202.7,28.3], xAxisY:217.7, yAxisX:30, xEnd:329.3, sw:.75, coreSw:.95}, weightTicks, aYTicks, aYLabels, aCurveX, aCurveY, aSubjects, aCoreSubjects);
drawPanel('panel-b', {xd:[20,60], xr:[392.3,670.3], yd:[10,70], yr:[202.7,28.3], xAxisY:217.7, yAxisX:381.3, xEnd:670.3, sw:.8, coreSw:1.6}, bXTicks, bYTicks, bYLabels, bCurveX, bCurveY, bSubjects, bCoreSubjects);
drawPanel('panel-c', {xd:[30,150], xr:[40.7,297.7], yd:[1,5.5], yr:[470.7,299.3], xAxisY:489.3, yAxisX:30, xEnd:319, sw:.75, coreSw:.95}, weightTicks, cYTicks, cYLabels, cCurveX, cCurveY, cSubjects, cCoreSubjects);
drawPanel('panel-d', {xd:[30,150], xr:[392.3,649], yd:[0,18], yr:[481.7,300], xAxisY:489.3, yAxisX:381.3, xEnd:670.3, sw:.75, coreSw:.95}, weightTicks, dYTicks, dYLabels, dCurveX, dCurveY, dSubjects, dCoreSubjects);
drawPanel('panel-e', {xd:[15,55], xr:[47.7,318.3], yd:[10,80], yr:[730.7,571.3], xAxisY:749.3, yAxisX:30, xEnd:318.3, sw:.7, coreSw:.7}, eXTicks, eYTicks, eYLabels, eCurveX, eCurveY, eSubjects, eCoreSubjects);
</script>
</body>
</html>
